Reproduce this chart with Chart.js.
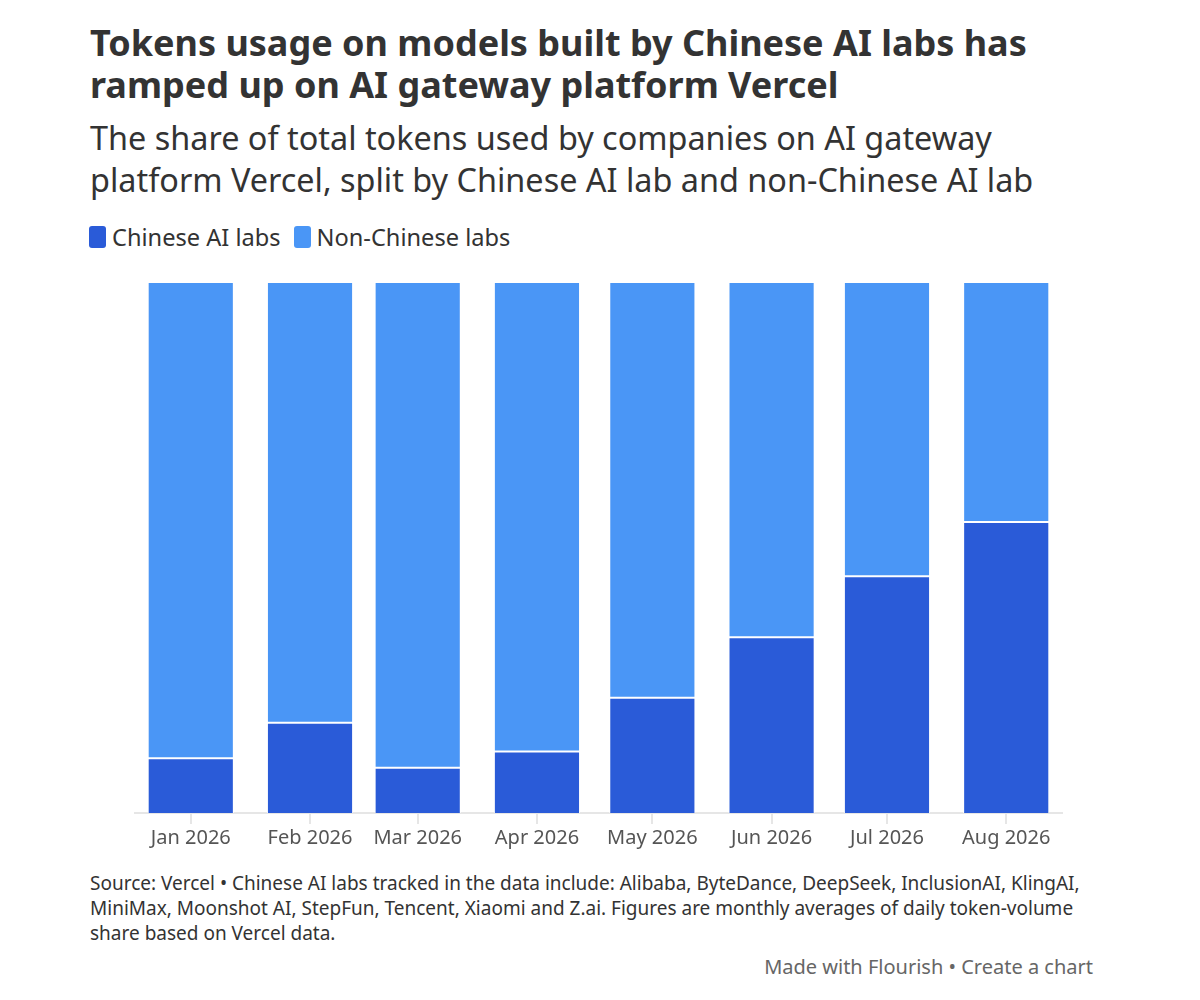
<!DOCTYPE html>
<html>
<head>
<meta charset="utf-8">
<script src="https://cdn.jsdelivr.net/npm/chart.js@4.4.1/dist/chart.umd.min.js"></script>
<style>
  body { margin:0; background:#fff; font-family: "Noto Sans", sans-serif; color:#333; }
  #wrap { position:relative; width:1200px; height:1000px; }
  #title { position:absolute; left:90px; top:22px; font-size:36px; font-weight:700; line-height:42px; color:#333; white-space:nowrap; }
  #sub { position:absolute; left:90px; top:116px; font-size:32.4px; line-height:42px; color:#333; white-space:nowrap; }
  #legend { position:absolute; left:89px; top:221px; font-size:23.6px; color:#333; display:flex; }
  .item { display:flex; align-items:center; margin-right:13px; }
  .box { width:17px; height:22px; border-radius:3px; margin-right:6px; }
  #chartBox { position:absolute; left:0; top:270px; width:1200px; height:594px; }
  #foot { position:absolute; left:90px; top:871px; font-size:19px; line-height:25px; color:#333; white-space:nowrap; }
  #made { position:absolute; right:107px; top:953px; font-size:20px; color:#666; }
</style>
</head>
<body>
<div id="wrap">
  <div id="title">Tokens usage on models built by Chinese AI labs has<br>ramped up on AI gateway platform Vercel</div>
  <div id="sub">The share of total tokens used by companies on AI gateway<br>platform Vercel, split by Chinese AI lab and non-Chinese AI lab</div>
  <div id="legend"></div>
  <div id="chartBox"><canvas id="chart"></canvas></div>
  <div id="foot">Source: Vercel • Chinese AI labs tracked in the data include: Alibaba, ByteDance, DeepSeek, InclusionAI, KlingAI,<br>MiniMax, Moonshot AI, StepFun, Tencent, Xiaomi and Z.ai. Figures are monthly averages of daily token-volume<br>share based on Vercel data.</div>
  <div id="made">Made with Flourish • Create a chart</div>
</div>
<script>
// dados
const meses = ['2026-01-01','2026-02-01','2026-03-01','2026-04-01','2026-05-01','2026-06-01','2026-07-01','2026-08-01'];
const rotulos = ['Jan 2026','Feb 2026','Mar 2026','Apr 2026','May 2026','Jun 2026','Jul 2026','Aug 2026'];
const chinesas = [10.3, 17.0, 8.5, 11.6, 21.7, 33.1, 44.6, 54.8];
const naoChinesas = [89.7, 83.0, 91.5, 88.4, 78.3, 66.9, 55.4, 45.2];

const corChina = '#2a5bd8';
const corOutras = '#4a96f6';

// dias desde 1 de janeiro (eixo de tempo linear)
const inicio = Date.UTC(2026, 0, 1);
const dias = meses.map(m => (Date.parse(m) - inicio) / 86400000);

function serie(valores) {
  return valores.map((v, i) => ({ x: dias[i], y: v }));
}

// legenda
const legenda = document.getElementById('legend');
[['Chinese AI labs', corChina], ['Non-Chinese labs', corOutras]].forEach(([nome, cor]) => {
  const el = document.createElement('div');
  el.className = 'item';
  el.innerHTML = '<span class="box" style="background:' + cor + '"></span>' + nome;
  legenda.appendChild(el);
});

const config = {
  type: 'bar',
  data: {
    datasets: [{
      label: 'Chinese AI labs',
      data: serie(chinesas),
      backgroundColor: corChina,
      borderColor: '#ffffff',
      borderWidth: 1,
      borderSkipped: 'start'
    }, {
      label: 'Non-Chinese labs',
      data: serie(naoChinesas),
      backgroundColor: corOutras,
      borderColor: '#ffffff',
      borderWidth: 1,
      borderSkipped: false
    }]
  },
  options: {
    responsive: true,
    maintainAspectRatio: false,
    animation: false,
    barPercentage: 1,
    categoryPercentage: 0.8,
    layout: { padding: { top: 12, left: 135, right: 138, bottom: 12 } },
    plugins: { legend: { display: false }, tooltip: { enabled: false } },
    scales: {
      x: {
        type: 'linear',
        stacked: true,
        offset: false,
        min: dias[0] - 14.5,
        max: dias[dias.length - 1] + 14.5,
        afterBuildTicks: (escala) => { escala.ticks = dias.map(d => ({ value: d })); },
        ticks: {
          autoSkip: false,
          maxRotation: 0,
          padding: 2,
          color: '#555',
          font: { family: '"Noto Sans", sans-serif', size: 20 },
          callback: (valor) => rotulos[dias.indexOf(valor)]
        },
        grid: { offset: false, drawOnChartArea: false, drawTicks: true, tickLength: 11, color: '#e6e6e6', lineWidth: 2 },
        border: { display: true, color: '#e6e6e6', width: 2 }
      },
      y: {
        stacked: true,
        display: false,
        min: 0,
        max: 100
      }
    }
  }
};

const myChart = new Chart(document.getElementById('chart'), config);
</script>
</body>
</html>
